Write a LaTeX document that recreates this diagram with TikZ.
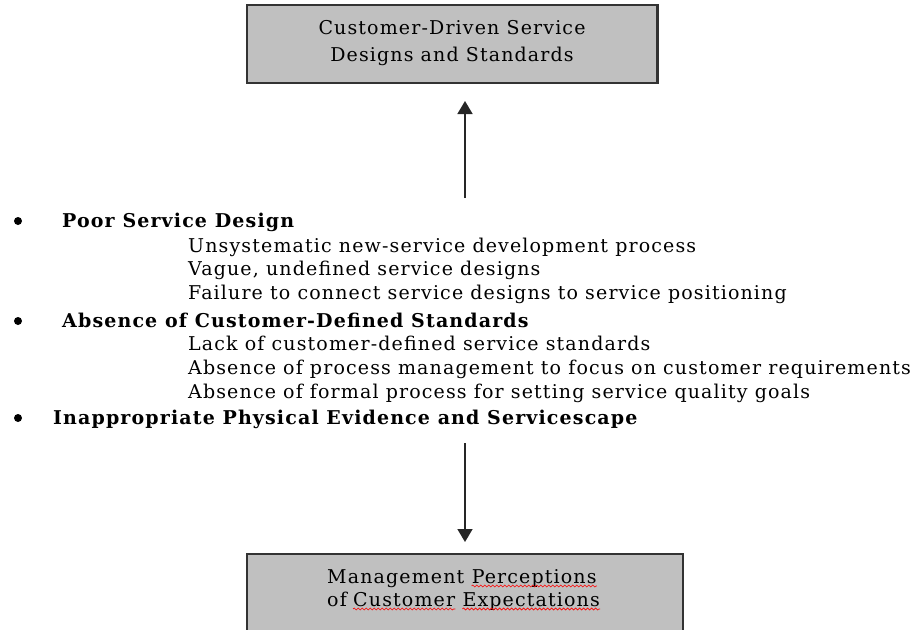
\documentclass[tikz,border=0pt]{standalone}
\usepackage{fontspec}
\setmainfont{DejaVu Serif}[LetterSpace=6]
\usetikzlibrary{arrows.meta,decorations.pathmorphing,calc}
\definecolor{boxgray}{HTML}{C0C0C0}
\begin{document}
\begin{tikzpicture}[x=1pt,y=-1pt,
  graybox/.style={draw=black!80,line width=1.3pt,fill=boxgray,inner sep=0pt},
  boxtext/.style={align=center,font=\fontsize{19}{27}\selectfont,inner sep=0pt},
  word/.style={anchor=base west,inner sep=0pt,font=\fontsize{19}{20}\selectfont},
  head/.style={anchor=base west,inner sep=0pt,font=\fontsize{19}{20}\selectfont\bfseries},
  item/.style={anchor=base west,inner sep=0pt,font=\fontsize{19}{20}\selectfont},
  bul/.style={circle,fill=black,inner sep=0pt,minimum size=8pt},
  wave/.style={draw=red,line width=0.6pt,decorate,decoration={snake,amplitude=1pt,segment length=4pt}},
  arr/.style={line width=1.6pt,draw=black!85,fill=black!85,-{Triangle[width=15pt,length=13pt]}}]
\useasboundingbox (0,0) rectangle (920,629);
% boxes
\node[graybox,minimum width=410pt,minimum height=78pt] (top) at (452,44) {};
\draw[black!80,line width=2.5pt] (top.north east) -- (top.south east);
\node[boxtext] (toptext) at (452,43) {Customer-Driven Service\\Designs and Standards};
\node[graybox,minimum width=436pt,minimum height=100pt] (bot) at (465,604) {};
\node[word] (w1) at (327,583) {Management};
\node[word] (w2) at ($(w1.base east)+(7,0)$) {Perceptions};
\node[word] (w3) at (327,606) {of};
\node[word] (w4) at ($(w3.base east)+(6,0)$) {Customer};
\node[word] (w5) at ($(w4.base east)+(7,0)$) {Expectations};
\draw[wave] ($(w2.base west)+(0,3)$) -- ($(w2.base east)+(0,3)$);
\draw[wave] ($(w4.base west)+(0,3)$) -- ($(w4.base east)+(0,3)$);
\draw[wave] ($(w5.base west)+(0,3)$) -- ($(w5.base east)+(0,3)$);
% list
\node[bul] (b1) at (18,221) {};
\node[head] (h1) at (62,227) {Poor Service Design};
\node[item] (i11) at (188,252) {Unsystematic new-service development process};
\node[item] (i12) at (188,275) {Vague, undefined service designs};
\node[item] (i13) at (188,299) {Failure to connect service designs to service positioning};
\node[bul] (b2) at (18,321) {};
\node[head] (h2) at (62,327) {Absence of Customer-Defined Standards};
\node[item] (i21) at (188,350) {Lack of customer-defined service standards};
\node[item] (i22) at (188,374) {Absence of process management to focus on customer requirements};
\node[item] (i23) at (188,398) {Absence of formal process for setting service quality goals};
\node[bul] (b3) at (18,418) {};
\node[head] (h3) at (53,424) {Inappropriate Physical Evidence and Servicescape};
% arrows
\coordinate (upstart) at (465,198);
\coordinate (uptip) at (465,101);
\coordinate (dnstart) at (465,443);
\coordinate (dntip) at (465,542);
\draw[arr] (upstart) -- (uptip);
\draw[arr] (dnstart) -- (dntip);
\end{tikzpicture}
\end{document}
